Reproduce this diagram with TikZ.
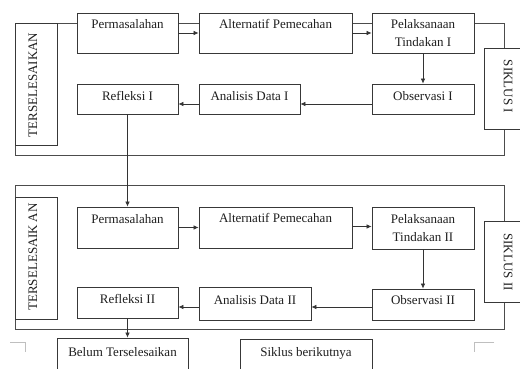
\documentclass[tikz,border=0pt]{standalone}
\usepackage{fontspec}
\setmainfont{Liberation Serif}
\usetikzlibrary{arrows.meta}
\begin{document}
\begin{tikzpicture}[x=1pt,y=-1pt,
  box/.style={draw=black!78, fill=white, line width=0.8pt, inner sep=0pt},
  frameline/.style={draw=black!70, line width=0.8pt},
  txt/.style={font=\fontsize{13}{15}\selectfont, inner sep=0pt, anchor=base, text=black!88},
  rtxt/.style={font=\fontsize{13}{15}\selectfont, inner sep=0pt, text=black!88},
  conn/.style={draw=black!80, line width=0.7pt, -{Latex[length=5pt,width=4.5pt]}},
  pagemark/.style={draw=black!25, line width=0.8pt}
]
\clip (0,0) rectangle (520,369);
\fill[white] (0,0) rectangle (520,369);

% frames
\draw[frameline] (15,23) rectangle (504,155);
\draw[frameline] (15,185) rectangle (504,329);

% cycle 1 boxes
\node[box, minimum width=42pt, minimum height=122pt] (ter1) at (36,84) {};
\node[box, minimum width=101pt, minimum height=40pt] (p1) at (127.5,33) {};
\node[box, minimum width=153pt, minimum height=40pt] (a1) at (275.5,33) {};
\node[box, minimum width=102pt, minimum height=40pt] (k1) at (423,33) {};
\node[box, minimum width=40pt, minimum height=81pt] (s1) at (504,88.5) {};
\node[box, minimum width=102pt, minimum height=30pt] (o1) at (423,99) {};
\node[box, minimum width=101pt, minimum height=30pt] (d1) at (249.5,99) {};
\node[box, minimum width=101pt, minimum height=30pt] (r1) at (127.5,99) {};

% cycle 2 boxes
\node[box, minimum width=42pt, minimum height=122pt] (ter2) at (36,258) {};
\node[box, minimum width=101pt, minimum height=41pt] (p2) at (127.5,227.5) {};
\node[box, minimum width=153pt, minimum height=41pt] (a2) at (275.5,227.5) {};
\node[box, minimum width=102pt, minimum height=42pt] (k2) at (423,228) {};
\node[box, minimum width=40pt, minimum height=81pt] (s2) at (504,261.5) {};
\node[box, minimum width=102pt, minimum height=31pt] (o2) at (423,304.5) {};
\node[box, minimum width=112pt, minimum height=33pt] (d2) at (255,303.5) {};
\node[box, minimum width=101pt, minimum height=31pt] (r2) at (127.5,302.5) {};

% bottom boxes
\node[box, minimum width=131pt, minimum height=42pt] (bt) at (122.5,359) {};
\node[box, minimum width=132pt, minimum height=42pt] (sb) at (306,360) {};

% texts cycle 1
\node[rtxt, rotate=90] (tter1) at (33,85) {TERSELESAIKAN};
\node[txt] (tp1) at (127.5,29) {Permasalahan};
\node[txt] (ta1) at (275.5,29) {Alternatif Pemecahan};
\node[txt] (tk1a) at (423,28.5) {Pelaksanaan};
\node[txt] (tk1b) at (423,46.5) {Tindakan I};
\node[rtxt, rotate=-90] (ts1) at (508,86.5) {SIKLUS I};
\node[txt] (to1) at (423,100) {Observasi I};
\node[txt] (td1) at (249.5,100) {Analisis Data I};
\node[txt] (tr1) at (127.5,100) {Refleksi I};

% texts cycle 2
\node[rtxt, rotate=90] (tter2) at (33,257) {TERSELESAIK\hspace{2.5pt}AN};
\node[txt] (tp2) at (127.5,223) {Permasalahan};
\node[txt] (ta2) at (275.5,222.5) {Alternatif Pemecahan};
\node[txt] (tk2a) at (423,223) {Pelaksanaan};
\node[txt] (tk2b) at (423,241.5) {Tindakan II};
\node[rtxt, rotate=-90] (ts2) at (508,262) {SIKLUS II};
\node[txt] (to2) at (423,304) {Observasi II};
\node[txt] (td2) at (255,304.5) {Analisis Data II};
\node[txt] (tr2) at (127.5,303) {Refleksi II};

\node[txt] (tbt) at (122.5,356) {Belum Terselesaikan};
\node[txt] (tsb) at (306,356) {Siklus berikutnya};

% connectors cycle 1
\draw[conn] (p1.east) -- (a1.west);
\draw[conn] (a1.east) -- (k1.west);
\draw[conn] (k1.south) -- (o1.north);
\draw[conn] ([yshift=-5pt]o1.west) -- ([yshift=-5pt]o1.west -| d1.east);
\draw[conn] ([yshift=-5pt]d1.west) -- ([yshift=-5pt]d1.west -| r1.east);
\draw[conn] (r1.south) -- (r1.south |- p2.north);

% connectors cycle 2
\draw[conn] (p2.east) -- (a2.west);
\draw[conn] ([yshift=1pt]a2.east) -- ([yshift=1pt]a2.east -| k2.west);
\draw[conn] (k2.south) -- (o2.north);
\draw[conn] ([yshift=-2.5pt]o2.west) -- ([yshift=-2.5pt]o2.west -| d2.east);
\draw[conn] ([yshift=-3.5pt]d2.west) -- ([yshift=-3.5pt]d2.west -| r2.east);
\draw[conn] (r2.south) -- (r2.south |- bt.north);

% page corner marks
\draw[pagemark] (10,342) -- (25,342) -- (25,352);
\draw[pagemark] (494,342) -- (474,342) -- (474,352);
\end{tikzpicture}
\end{document}
